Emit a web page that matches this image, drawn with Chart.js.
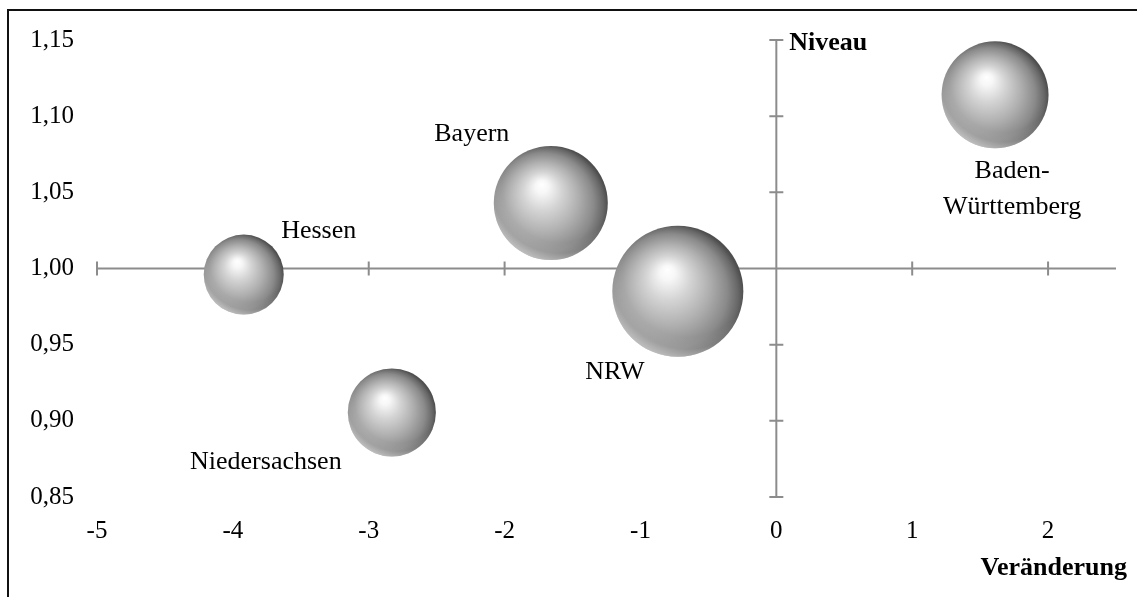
<!DOCTYPE html>
<html lang="de">
<head>
<meta charset="utf-8">
<title>Niveau und Veränderung nach Bundesland</title>
<script src="https://cdn.jsdelivr.net/npm/chart.js@4.4.1/dist/chart.umd.min.js"></script>
<style>
  html, body { margin: 0; padding: 0; background: #ffffff; }
  #wrap { position: relative; width: 1137px; height: 597px; }
  canvas { display: block; }
</style>
</head>
<body>
<div id="wrap"><canvas id="chart" width="1137" height="597"></canvas></div>
<script>
// Bundesländer with change (x), level (y) and relative size (bubble area)
const regions = ['Hessen', 'Niedersachsen', 'Bayern', 'NRW', 'Baden-Württemberg'];
const veraenderung = [-3.92, -2.83, -1.66, -0.725, 1.61];
const niveau = [0.996, 0.9055, 1.043, 0.985, 1.114];
const groesse = [16.0, 19.4, 32.5, 42.9, 28.6];

// axis ticks
const xTicks = [-5, -4, -3, -2, -1, 0, 1, 2];
const yTicks = [0.85, 0.90, 0.95, 1.00, 1.05, 1.10, 1.15];

// multi-line point labels
const pointLabels = [['Hessen'], ['Niedersachsen'], ['Bayern'], ['NRW'], ['Baden-', 'Württemberg']];

// placement of each point label relative to its bubble centre (px)
const labelOffsets = [
  { dx: 75, dy: -43 },
  { dx: -126, dy: 50 },
  { dx: -79, dy: -69 },
  { dx: -63, dy: 81 },
  { dx: 17, dy: 76 }
];

const SERIF = '"Liberation Serif", "Times New Roman", serif';
const AXIS_GREY = '#8c8c8c';

const bubbleData = regions.map((name, i) => ({
  x: veraenderung[i],
  y: niveau[i],
  r: 10 * Math.sqrt(groesse[i])
}));

// shaded sphere fill for each bubble
function sphereFill(ctx) {
  const chart = ctx.chart;
  const raw = ctx.raw;
  if (!raw || !chart.scales || !chart.scales.x || !chart.scales.y) return '#b0b0b0';
  const cx = chart.scales.x.getPixelForValue(raw.x);
  const cy = chart.scales.y.getPixelForValue(raw.y);
  const r = raw.r;
  if (![cx, cy, r].every(Number.isFinite)) return '#b0b0b0';
  const hx = cx - 0.16 * r, hy = cy - 0.33 * r;
  const g = chart.ctx.createRadialGradient(hx, hy, 0, cx - 0.12 * r, cy + 0.1 * r, 1.13 * r);
  g.addColorStop(0.0, '#ffffff');
  g.addColorStop(0.10, '#f7f7f7');
  g.addColorStop(0.30, '#d4d4d4');
  g.addColorStop(0.55, '#afafaf');
  g.addColorStop(0.78, '#8a8a8a');
  g.addColorStop(0.92, '#686868');
  g.addColorStop(1.0, '#4e4e4e');
  return g;
}

// keep the plot area exactly where the axes are fitted
function noScalePadding(scale) {
  scale.paddingTop = 0;
  scale.paddingBottom = 0;
  scale.paddingLeft = 0;
  scale.paddingRight = 0;
}

// crossing axes through x = 0 and y = 1,00 with cross-shaped tick marks
const crossAxes = {
  id: 'crossAxes',
  beforeDatasetsDraw(chart) {
    const { ctx, scales: { x, y } } = chart;
    const x0 = x.getPixelForValue(0);
    const y0 = y.getPixelForValue(1.0);
    ctx.save();
    ctx.strokeStyle = AXIS_GREY;
    ctx.lineWidth = 2;
    ctx.beginPath();
    ctx.moveTo(x.getPixelForValue(x.min), y0);
    ctx.lineTo(x.getPixelForValue(x.max), y0);
    ctx.moveTo(x0, y.getPixelForValue(y.max));
    ctx.lineTo(x0, y.getPixelForValue(y.min));
    const t = 7;
    xTicks.forEach(v => {
      const px = x.getPixelForValue(v);
      ctx.moveTo(px, y0 - t);
      ctx.lineTo(px, y0 + t);
    });
    yTicks.forEach(v => {
      const py = y.getPixelForValue(v);
      ctx.moveTo(x0 - t, py);
      ctx.lineTo(x0 + t, py);
    });
    ctx.stroke();
    ctx.restore();
  }
};

// soft reflected light along the lower-left rim of each sphere
const rimLight = {
  id: 'rimLight',
  afterDatasetsDraw(chart) {
    const { ctx } = chart;
    chart.getDatasetMeta(0).data.forEach(el => {
      const r = el.options.radius;
      const cx = el.x, cy = el.y;
      const ox = cx + 0.15 * r, oy = cy - 0.3 * r;
      const g = ctx.createRadialGradient(ox, oy, 1.0 * r, ox, oy, 1.36 * r);
      g.addColorStop(0.0, 'rgba(255,255,255,0)');
      g.addColorStop(0.5, 'rgba(255,255,255,0.12)');
      g.addColorStop(1.0, 'rgba(255,255,255,0.55)');
      ctx.save();
      ctx.beginPath();
      ctx.arc(cx, cy, r, 0, Math.PI * 2);
      ctx.fillStyle = g;
      ctx.fill();
      ctx.restore();
    });
  }
};

// point labels, axis titles and the frame
const annotations = {
  id: 'annotations',
  afterDatasetsDraw(chart) {
    const { ctx, scales: { x, y } } = chart;
    ctx.save();
    ctx.fillStyle = '#000000';
    ctx.textAlign = 'center';
    ctx.textBaseline = 'middle';
    ctx.font = '26px ' + SERIF;
    const meta = chart.getDatasetMeta(0);
    meta.data.forEach((el, i) => {
      const off = labelOffsets[i];
      pointLabels[i].forEach((line, k) => {
        ctx.fillText(line, el.x + off.dx, el.y + off.dy + k * 36);
      });
    });

    ctx.font = 'bold 26px ' + SERIF;
    ctx.textAlign = 'left';
    ctx.fillText('Niveau', x.getPixelForValue(0) + 13, y.getPixelForValue(y.max) + 3);
    ctx.textAlign = 'right';
    ctx.fillText('Veränderung', chart.width - 10, 568);

    ctx.fillStyle = '#111111';
    ctx.fillRect(7, 9, chart.width - 7, 2);
    ctx.fillRect(7, 9, 2, chart.height - 9);
    ctx.restore();
  }
};

new Chart(document.getElementById('chart'), {
  type: 'bubble',
  data: {
    labels: regions,
    datasets: [{
      label: 'Bundesländer',
      data: bubbleData,
      backgroundColor: sphereFill,
      borderWidth: 0,
      hoverBorderWidth: 0,
      hoverRadius: 0,
      clip: false
    }]
  },
  options: {
    responsive: false,
    animation: false,
    events: [],
    layout: { autoPadding: false, padding: { left: 0, right: 21, top: 40, bottom: 0 } },
    plugins: {
      legend: { display: false },
      tooltip: { enabled: false }
    },
    scales: {
      x: {
        type: 'linear',
        min: -5,
        max: 2.5,
        afterFit(scale) { scale.height = 100; noScalePadding(scale); },
        grid: { display: false, drawTicks: false },
        border: { display: false },
        ticks: {
          stepSize: 1,
          includeBounds: false,
          padding: 19,
          color: '#000000',
          font: { family: SERIF, size: 25 },
          callback: v => (Number.isInteger(v) ? String(v) : '')
        }
      },
      y: {
        type: 'linear',
        min: 0.85,
        max: 1.15,
        afterFit(scale) { scale.width = 97; noScalePadding(scale); },
        grid: { display: false, drawTicks: false },
        border: { display: false },
        ticks: {
          stepSize: 0.05,
          padding: 23,
          color: '#000000',
          font: { family: SERIF, size: 25 },
          callback: v => Number(v).toFixed(2).replace('.', ',')
        }
      }
    }
  },
  plugins: [crossAxes, rimLight, annotations]
});
</script>
</body>
</html>
